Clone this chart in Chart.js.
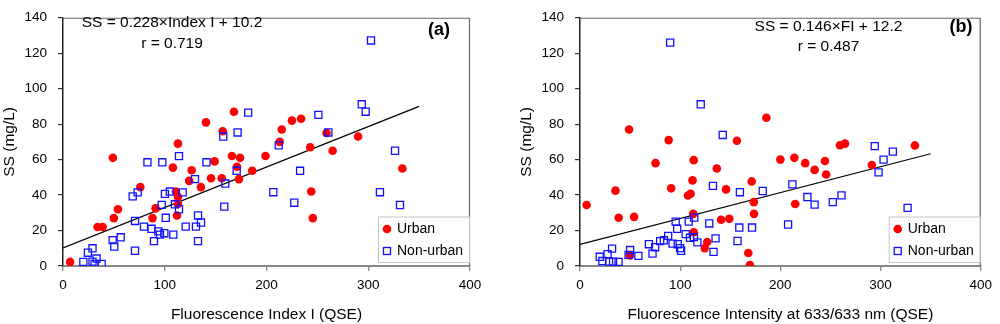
<!DOCTYPE html>
<html><head><meta charset="utf-8">
<script src="https://cdn.jsdelivr.net/npm/chart.js@4.4.0/dist/chart.umd.min.js"></script>
<style>
html,body{margin:0;padding:0;background:#fff;}
#wrap{position:relative;width:1000px;height:324px;overflow:hidden;}
.box{position:absolute;top:0;width:500px;height:324px;}
</style></head><body>
<div id="wrap">
<div class="box" style="left:0"><canvas id="ca" width="500" height="324"></canvas></div>
<div class="box" style="left:500px"><canvas id="cb" width="500" height="324"></canvas></div>
</div>
<script>
// ---- Data ----
const xTicks = [0, 100, 200, 300, 400];
const yTicks = [0, 20, 40, 60, 80, 100, 120, 140];

// Panel (a): Fluorescence Index I vs SS
const urbanAX = [7,34,39,49,50,54,76,88,91,108,111,113,113,112,113,124,126.5,135.5,140.5,145.5,149,156,157,166,168,171,173,174,186,199,213,215,225,234,243,244,245.5,259,265,290,333.5];
const urbanAY = [2.3,22,22,61,27,32,44.5,27,32.5,55.5,42,39,35,28.5,69,48,54,44.5,81,49.5,59,49.5,76,62,87,56,49,61,53.7,62,70,77,82,83,67,42,27,75,65,73,55];
const nonAX = [20,24.5,29,29,33,31,38,48.8,50.4,56.7,68.5,70.8,70.8,73.4,79.6,83,87,89.4,93.7,95.3,97,97.6,99.6,100.2,101,105,108.4,110,114,114,117.6,120.6,129.7,130.7,132.7,132.7,135.6,141,157.5,158.5,159.5,170.7,171.6,182,206.7,212,227.3,233,251,260.8,293.6,297.5,302.7,311.5,326.3,331.2];
const nonAY = [2.3,7.5,10,2.5,4.2,1.2,1.2,14.6,11,16.2,39.3,25.4,8.6,41.5,22.2,58.5,21,14,19.5,17.7,34.5,58.5,18.5,40.7,27.2,42,17.7,34.8,32,62,41.5,22.2,49,22.2,28.5,14,24.5,58.5,73,33.5,46.5,53.7,75.3,86.5,41.6,68,35.7,53.7,85.2,75.3,91.2,87,127.2,41.6,65,34.4];
const fitAX = [0, 350];
const fitAY = [10.2, 90.0];

// Panel (b): Fluorescence Intensity at 633/633 nm vs SS
const urbanBX = [6.6,35.4,38.6,49,50,54,75.4,88.5,91,107.8,110.4,112.3,113.5,113,113.5,124.5,127,136.6,140.8,145.8,149,156.6,168,169.6,171.4,173.5,173.7,186,200,214,214.8,224.8,234.2,244.5,245.7,259.5,264.5,291.3,334.3];
const urbanBY = [34.4,42.5,27.2,77,6,27.7,58,71,43.8,39.8,40.7,48.3,59.7,29.4,19,10.1,13.5,55,26.1,43.2,26.6,70.6,7.3,0.5,47.7,36,29.4,83.6,60,61,35,58,54.2,59.2,51.6,68.1,69,57,68];
const nonBX = [19.7,22.3,27.5,29,32,33,38.5,48.5,50,58.3,68.8,72.4,75,80,83.7,88,90,92.4,95.5,97,97.6,99.9,100.9,105.5,108.5,109.8,113.7,114,117.2,120.5,129,132.7,133.3,135.3,142.5,157.2,159,159.6,171.7,182.4,207.7,212,227,234.2,252.3,261,294.2,298,303,312.3,327];
const nonBY = [5.2,2.8,6.7,2.5,9.8,2.5,2.3,6.3,9,5.7,12.3,7,10.6,14,14.5,17,126,12.6,25,21,12.3,10.1,8.6,18,25,15.9,16.3,27.3,13.3,91.2,24,45.2,8,15.6,73.9,14.1,21.7,41.6,21.7,42.3,23.4,46,38.9,34.6,36,39.8,67.6,52.8,60,64.5,32.8];
const fitBX = [0, 350];
const fitBY = [12.2, 63.3];

const seriesNames = ['Urban', 'Non-urban'];

// ---- Styling ----
const FONT = "'Liberation Sans', Arial, Helvetica, sans-serif";
const RED = '#FF0000';
const BLUE = '#1010FF';

function pts(xs, ys) { return xs.map((x, i) => ({x: x, y: ys[i]})); }

function decor(cfg) {
  return {
    id: 'decor' + cfg.tag,
    afterDatasetsDraw(chart) {
      const ctx = chart.ctx, a = chart.chartArea;
      ctx.save();
      // frame top/right
      ctx.strokeStyle = '#666';
      ctx.lineWidth = 1.2;
      ctx.beginPath();
      ctx.moveTo(a.left, a.top + 0.5);
      ctx.lineTo(a.right - 0.5, a.top + 0.5);
      ctx.lineTo(a.right - 0.5, a.bottom);
      ctx.stroke();
      // legend box
      const bw = 91, bh = 45.5;
      const bx = a.right - 1 - bw, by = a.bottom - 4 - bh;
      ctx.fillStyle = '#fff';
      ctx.fillRect(bx, by, bw, bh);
      ctx.strokeStyle = '#c4c4c4';
      ctx.lineWidth = 1;
      ctx.strokeRect(bx + 0.5, by + 0.5, bw, bh);
      // legend markers
      ctx.fillStyle = RED;
      ctx.beginPath();
      ctx.arc(bx + 9, by + 12.5, 4.3, 0, Math.PI * 2);
      ctx.fill();
      ctx.strokeStyle = BLUE;
      ctx.lineWidth = 1.3;
      ctx.strokeRect(bx + 5.5, by + 31, 7, 7);
      ctx.fillStyle = '#000';
      ctx.font = '14px ' + FONT;
      ctx.textAlign = 'left';
      ctx.textBaseline = 'middle';
      ctx.fillText(seriesNames[0], bx + 19, by + 13);
      ctx.fillText(seriesNames[1], bx + 19, by + 35);
      // equation text
      ctx.font = '15.5px ' + FONT;
      ctx.textAlign = 'center';
      ctx.fillText(cfg.eq, a.left + cfg.eqDx, cfg.eqY);
      ctx.fillText(cfg.r, a.left + cfg.eqDx, cfg.rY);
      ctx.font = 'bold 18px ' + FONT;
      ctx.fillText(cfg.label, a.left + cfg.labDx, cfg.labY);
      ctx.restore();
    }
  };
}

function makeChart(id, uX, uY, nX, nY, fX, fY, xTitle, padLeft, padRight, cfg) {
  const tickFont = {family: FONT, size: 13.5, lineHeight: 1};
  const titleFont = {family: FONT, size: 15.5};
  return new Chart(document.getElementById(id), {
    type: 'scatter',
    data: {
      datasets: [
        {label: seriesNames[1], data: pts(nX, nY), pointStyle: 'rect', pointRadius: 5,
         backgroundColor: 'rgba(0,0,0,0)', borderColor: BLUE, borderWidth: 1.3},
        {label: seriesNames[0], data: pts(uX, uY), pointStyle: 'circle', pointRadius: 4.3,
         backgroundColor: RED, borderColor: RED, borderWidth: 0},
        {type: 'line', label: 'fit', data: pts(fX, fY), borderColor: '#000', borderWidth: 1.2,
         pointRadius: 0, fill: false, tension: 0}
      ]
    },
    options: {
      responsive: false,
      animation: false,
      devicePixelRatio: 1,
      layout: {padding: {left: padLeft, right: padRight, top: 7, bottom: 0}},
      plugins: {legend: {display: false}, tooltip: {enabled: false}},
      scales: {
        x: {
          type: 'linear', min: 0, max: 400,
          afterBuildTicks(s) { s.ticks = xTicks.map(v => ({value: v})); },
          afterFit(s) { s.height = 58; },
          grid: {drawOnChartArea: false, drawTicks: true, tickLength: 5, color: '#888', lineWidth: 1.3},
          border: {display: true, color: '#888', width: 2},
          ticks: {font: tickFont, color: '#000', padding: 8, maxRotation: 0},
          title: {display: true, text: xTitle, font: titleFont, color: '#000', padding: {top: 0, bottom: 0}}
        },
        y: {
          type: 'linear', min: 0, max: 140,
          afterBuildTicks(s) { s.ticks = yTicks.map(v => ({value: v})); },
          afterFit(s) { s.width = 63; },
          grid: {drawOnChartArea: false, drawTicks: true, tickLength: 5, color: '#333', lineWidth: 1.2},
          border: {display: true, color: '#222', width: 1.5},
          ticks: {font: tickFont, color: '#000', padding: 11},
          title: {display: true, text: 'SS (mg/L)', font: titleFont, color: '#000', padding: {top: 0, bottom: 0}}
        }
      }
    },
    plugins: [decor(cfg)]
  });
}

makeChart('ca', urbanAX, urbanAY, nonAX, nonAY, fitAX, fitAY,
  'Fluorescence Index I (QSE)', 0, 30,
  {tag: 'a', eq: 'SS = 0.228\u00D7Index I + 10.2', r: 'r = 0.719', eqDx: 109, eqY: 23, rY: 44,
   label: '(a)', labDx: 376, labY: 30});
makeChart('cb', urbanBX, urbanBY, nonBX, nonBY, fitBX, fitBY,
  'Fluorescence Intensity at 633/633 nm (QSE)', 17, 13,
  {tag: 'b', eq: 'SS = 0.146\u00D7FI + 12.2', r: 'r = 0.487', eqDx: 248.5, eqY: 26.5, rY: 47,
   label: '(b)', labDx: 381, labY: 27});
</script>
</body></html>
